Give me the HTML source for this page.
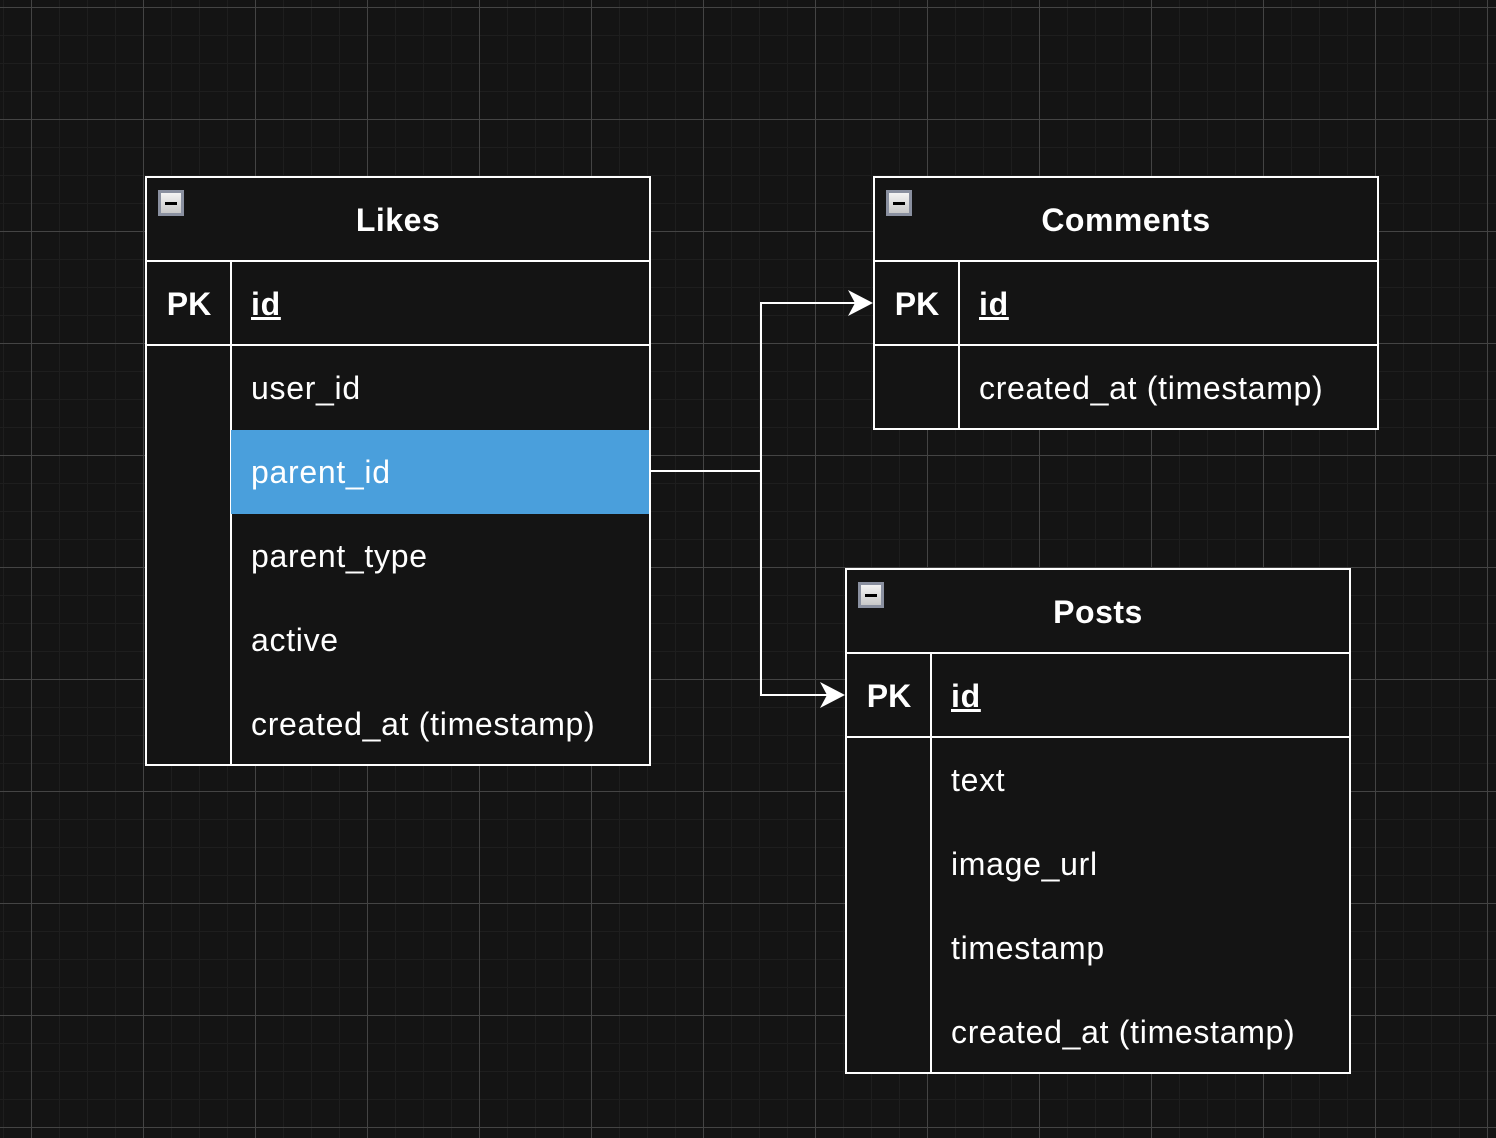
<!DOCTYPE html>
<html><head><style>
html,body{margin:0;padding:0}
body{width:1496px;height:1138px;overflow:hidden;background:#141414;position:relative;font-family:"Liberation Sans",Arial,sans-serif;
background-image:
linear-gradient(to right,#444 1px,transparent 1px),
linear-gradient(to bottom,#444 1px,transparent 1px),
linear-gradient(to right,#1e1e1e 1px,transparent 1px),
linear-gradient(to bottom,#1e1e1e 1px,transparent 1px);
background-size:112px 112px,112px 112px,28px 28px,28px 28px;
background-position:31px 0,0 7px,3px 0,0 7px;}
.t{position:absolute;border:2px solid #fff;background:#141414;box-sizing:border-box;color:#fff}
.h{height:84px;border-bottom:2px solid #fff;box-sizing:border-box;text-align:center;font-weight:bold;font-size:32px;line-height:84px;letter-spacing:0.5px}
.ic{position:absolute;left:11px;top:12px;width:26px;height:26px;background:linear-gradient(#f4f4f4,#c8c8c8);border:3px solid #8a90a0;box-sizing:border-box}
.ic:after{content:"";position:absolute;left:4px;top:9px;width:12px;height:3px;background:#000}
.r{position:absolute;left:0;right:0;height:84px;font-size:32px;line-height:84px;letter-spacing:0.7px;white-space:nowrap}
.pk{position:absolute;left:0;width:84px;text-align:center;font-weight:bold;letter-spacing:0}
.nm{position:absolute;left:104px}
.vl{position:absolute;top:84px;bottom:0;left:83px;width:2px;background:#fff}
.hb{border-bottom:2px solid #fff;box-sizing:border-box}
</style></head><body>
<svg width="1496" height="1138" style="position:absolute;left:0;top:0">
<polyline points="650,471 761,471 761,303 855,303" fill="none" stroke="#fff" stroke-width="2"/>
<polyline points="761,471 761,695 827,695" fill="none" stroke="#fff" stroke-width="2"/>
<polygon points="873,303 848,290 855,303 848,316" fill="#fff"/>
<polygon points="845,695 820,682 827,695 820,708" fill="#fff"/>
</svg>

<div class="t" style="left:145px;top:176px;width:506px;height:590px">
<div class="ic"></div><div class="h">Likes</div>
<div class="vl"></div>
<div class="r hb" style="top:84px"><span class="pk">PK</span><span class="nm" style="font-weight:bold;text-decoration:underline">id</span></div>
<div class="r" style="top:168px"><span class="nm">user_id</span></div>
<div class="r" style="top:252px;left:84px;background:#4a9fdc"><span class="nm" style="left:20px">parent_id</span></div>
<div class="r" style="top:336px"><span class="nm">parent_type</span></div>
<div class="r" style="top:420px"><span class="nm">active</span></div>
<div class="r" style="top:504px"><span class="nm">created_at (timestamp)</span></div>
</div>

<div class="t" style="left:873px;top:176px;width:506px;height:254px">
<div class="ic"></div><div class="h">Comments</div>
<div class="vl"></div>
<div class="r hb" style="top:84px"><span class="pk">PK</span><span class="nm" style="font-weight:bold;text-decoration:underline">id</span></div>
<div class="r" style="top:168px"><span class="nm">created_at (timestamp)</span></div>
</div>

<div class="t" style="left:845px;top:568px;width:506px;height:506px">
<div class="ic"></div><div class="h">Posts</div>
<div class="vl"></div>
<div class="r hb" style="top:84px"><span class="pk">PK</span><span class="nm" style="font-weight:bold;text-decoration:underline">id</span></div>
<div class="r" style="top:168px"><span class="nm">text</span></div>
<div class="r" style="top:252px"><span class="nm">image_url</span></div>
<div class="r" style="top:336px"><span class="nm">timestamp</span></div>
<div class="r" style="top:420px"><span class="nm">created_at (timestamp)</span></div>
</div>
</body></html>
